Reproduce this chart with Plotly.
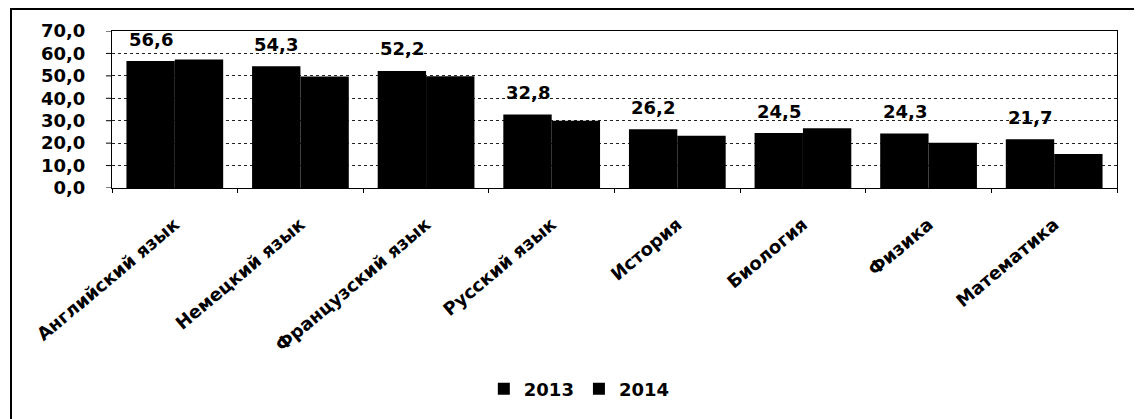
import plotly.graph_objects as go

subjects = [
    'Английский язык', 'Немецкий язык', 'Французский язык', 'Русский язык',
    'История', 'Биология', 'Физика', 'Математика'
]
years = ['2013', '2014']
values_2013 = [56.6, 54.3, 52.2, 32.8, 26.2, 24.5, 24.3, 21.7]
values_2014 = [57.3, 49.7, 49.8, 30.0, 23.3, 26.6, 20.2, 15.2]
y_ticks = [0, 10, 20, 30, 40, 50, 60, 70]

FONT = "DejaVu Sans"

fig = go.Figure()

for year, vals in zip(years, [values_2013, values_2014]):
    fig.add_trace(go.Bar(
        x=subjects,
        y=vals,
        name=year,
        marker=dict(color='black', line=dict(width=0)),
    ))

# Value labels above the 2013 bars only
for subj, val in zip(subjects, values_2013):
    fig.add_annotation(
        x=subj, y=val,
        text=f"{val:.1f}".replace('.', ','),
        showarrow=False,
        xshift=-24, yshift=22,
        font=dict(family=FONT, size=18, color='black', weight='bold'),
    )

# short black tick marks on the y axis (the real ticks are kept invisible
# and long, so the labels sit further from the axis)
for t in y_ticks:
    fig.add_shape(
        type='line', xref='paper', yref='y',
        x0=-0.006, x1=0, y0=t, y1=t,
        line=dict(color='black', width=1),
    )

# Outer frame around the whole chart
fig.add_shape(
    type='rect', xref='paper', yref='paper',
    x0=-0.1005, x1=1.023, y0=-1.6, y1=1.14,
    line=dict(color='black', width=2),
)

# the page body has an 8px margin, so the figure is sized/offset for it
fig.update_layout(
    width=1134, height=411,
    margin=dict(l=104, r=25, t=23, b=231),
    paper_bgcolor='white',
    plot_bgcolor='white',
    barmode='group',
    bargap=0.23,
    bargroupgap=0,
    separators=', ',
    font=dict(family=FONT, color='black'),
    showlegend=True,
    legend=dict(
        orientation='h',
        x=0.465, xanchor='center',
        y=-1.28, yanchor='middle',
        font=dict(family=FONT, size=18, weight='bold'),
        itemwidth=30,
        traceorder='normal',
    ),
)

fig.update_yaxes(
    range=[0, 70],
    tickvals=y_ticks,
    tickformat='.1f',
    showgrid=True,
    gridcolor='#222222',
    griddash='dot',
    gridwidth=1,
    showline=True,
    linecolor='black',
    linewidth=1,
    mirror=True,
    ticks='outside',
    ticklen=22,
    tickcolor='rgba(0,0,0,0)',
    tickfont=dict(family=FONT, size=18, weight='bold'),
    zeroline=False,
)

fig.update_xaxes(
    tickangle=-40,
    showline=True,
    linecolor='black',
    linewidth=1,
    mirror=True,
    ticks='outside',
    ticklen=4,
    tickcolor='black',
    tickson='boundaries',
    ticklabelstandoff=18,
    tickfont=dict(family=FONT, size=18, weight='bold'),
)

fig.write_html("out.html")
